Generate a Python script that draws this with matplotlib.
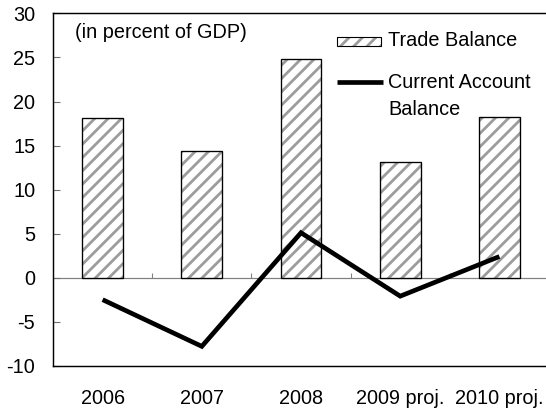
import numpy as np
import matplotlib
matplotlib.use("Agg")
import matplotlib.pyplot as plt
from matplotlib.patches import Rectangle
from matplotlib.lines import Line2D

plt.rcParams["font.family"] = ["Liberation Sans", "DejaVu Sans"]
plt.rcParams["hatch.linewidth"] = 2.5

categories = ["2006", "2007", "2008", "2009 proj.", "2010 proj."]
trade_balance = [18.1, 14.4, 24.8, 13.1, 18.2]
current_account = [-2.5, -7.8, 5.1, -2.1, 2.4]
y_ticks = [-10, -5, 0, 5, 10, 15, 20, 25, 30]

DPI = 80
fig = plt.figure(figsize=(546 / DPI, 408 / DPI), dpi=DPI)
ax = fig.add_axes([0.0971, 0.1036, 0.9084, 0.8634])

x = np.arange(len(categories))
hatch_grey = "#9c9c9c"
fs = 17.9

# hatched bars: stripes first, then a black outline on top
ax.bar(x, trade_balance, width=0.41, color="white", edgecolor=hatch_grey,
       hatch="//", linewidth=0, zorder=2)
ax.bar(x, trade_balance, width=0.41, color="none", edgecolor="black",
       linewidth=1.2, zorder=3)

# zero line with small marks between categories
ax.axhline(0, color="#808080", linewidth=1.1, zorder=1)
ax.vlines(x[:-1] + 0.5, 0, 0.5, color="#808080", linewidth=1.0, zorder=1)

ax.plot(x, current_account, color="black", linewidth=4.2,
        solid_joinstyle="miter", solid_capstyle="butt", zorder=4)

ax.set_xlim(-0.5, len(categories) - 0.5)
ax.set_ylim(-10, 30)
ax.set_yticks(y_ticks)
ax.set_yticklabels([str(v) for v in y_ticks], fontsize=fs)
ax.set_xticks(x)
ax.set_xticklabels(categories, fontsize=fs)
ax.tick_params(axis="x", length=0, pad=21)
ax.tick_params(axis="y", direction="in", length=6, width=1.0,
               color="#707070", pad=16)

for side in ("left", "bottom", "top"):
    ax.spines[side].set_color("black")
    ax.spines[side].set_linewidth(1.3)
ax.spines["right"].set_visible(False)

ax.text(0.0444, 0.9446, "(in percent of GDP)", transform=ax.transAxes,
        fontsize=fs, va="center", ha="left")

# legend
ax.add_patch(Rectangle((0.572, 0.9086), 0.0887, 0.0239, transform=ax.transAxes,
                       facecolor="white", edgecolor=hatch_grey, hatch="//",
                       linewidth=0, zorder=5))
ax.add_patch(Rectangle((0.572, 0.9086), 0.0887, 0.0239, transform=ax.transAxes,
                       facecolor="none", edgecolor="black", linewidth=1.0,
                       zorder=6))
ax.text(0.6754, 0.9233, "Trade Balance", transform=ax.transAxes,
        fontsize=fs, va="center", ha="left")
ax.add_line(Line2D([0.572, 0.6653], [0.8055, 0.8055], transform=ax.transAxes,
                   color="black", linewidth=4.2, solid_capstyle="butt"))
ax.text(0.6754, 0.8027, "Current Account", transform=ax.transAxes,
        fontsize=fs, va="center", ha="left")
ax.text(0.6754, 0.726, "Balance", transform=ax.transAxes,
        fontsize=fs, va="center", ha="left")

fig.savefig("out.png", dpi=DPI)
